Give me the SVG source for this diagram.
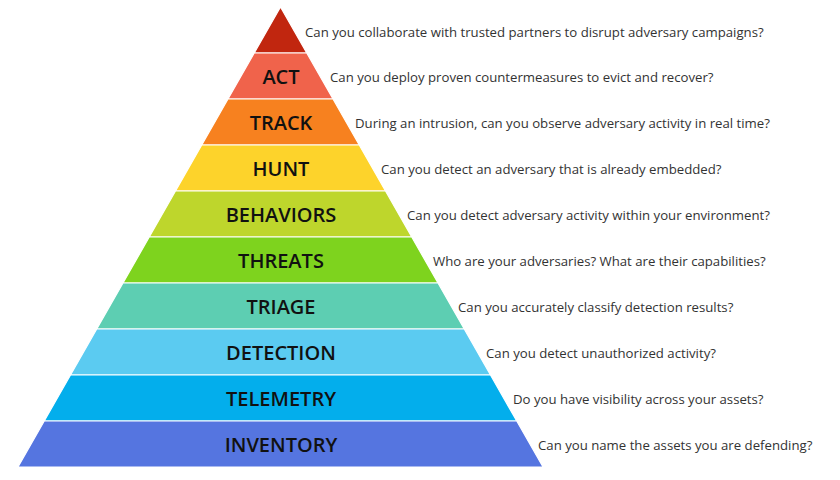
<svg xmlns="http://www.w3.org/2000/svg" width="840" height="480" viewBox="0 0 840 480">
<style>
.layer{stroke:#ffffff;stroke-width:1.2;stroke-linejoin:miter}
.lbl{font-family:"Open Sans","Noto Sans","Liberation Sans",sans-serif;font-weight:600;font-size:20px;fill:#111111;text-anchor:middle}
.q{font-family:"Open Sans","Noto Sans","Liberation Sans",sans-serif;font-size:13.2px;fill:#333333}
</style>
<rect width="840" height="480" fill="#ffffff"/>
<g id="apex">
<polygon class="layer" points="280.5,7 306.75,53 254.25,53" fill="#C1260F"/>
<text class="q" x="305" y="37">Can you collaborate with trusted partners to disrupt adversary campaigns?</text>
</g>
<g id="act">
<polygon class="layer" points="254.25,53 306.75,53 333,99 228,99" fill="#F0634B"/>
<text class="lbl" x="281" y="84">ACT</text>
<text class="q" x="330" y="82">Can you deploy proven countermeasures to evict and recover?</text>
</g>
<g id="track">
<polygon class="layer" points="228,99 333,99 359.25,145 201.75,145" fill="#F7811F"/>
<text class="lbl" x="281" y="130">TRACK</text>
<text class="q" x="355" y="128">During an intrusion, can you observe adversary activity in real time?</text>
</g>
<g id="hunt">
<polygon class="layer" points="201.75,145 359.25,145 385.5,191 175.5,191" fill="#FDD32B"/>
<text class="lbl" x="281" y="176">HUNT</text>
<text class="q" x="381" y="174">Can you detect an adversary that is already embedded?</text>
</g>
<g id="behaviors">
<polygon class="layer" points="175.5,191 385.5,191 411.75,237 149.25,237" fill="#BED62C"/>
<text class="lbl" x="281" y="222">BEHAVIORS</text>
<text class="q" x="407" y="220">Can you detect adversary activity within your environment?</text>
</g>
<g id="threats">
<polygon class="layer" points="149.25,237 411.75,237 438,283 123,283" fill="#7ED31E"/>
<text class="lbl" x="281" y="268">THREATS</text>
<text class="q" x="433" y="266">Who are your adversaries? What are their capabilities?</text>
</g>
<g id="triage">
<polygon class="layer" points="123,283 438,283 464.25,329 96.75,329" fill="#5DCEB2"/>
<text class="lbl" x="281" y="314">TRIAGE</text>
<text class="q" x="458" y="312">Can you accurately classify detection results?</text>
</g>
<g id="detection">
<polygon class="layer" points="96.75,329 464.25,329 490.5,375 70.5,375" fill="#5BCBF1"/>
<text class="lbl" x="281" y="360">DETECTION</text>
<text class="q" x="486" y="358">Can you detect unauthorized activity?</text>
</g>
<g id="telemetry">
<polygon class="layer" points="70.5,375 490.5,375 516.75,421 44.25,421" fill="#03AEEC"/>
<text class="lbl" x="281" y="406">TELEMETRY</text>
<text class="q" x="513" y="404">Do you have visibility across your assets?</text>
</g>
<g id="inventory">
<polygon class="layer" points="44.25,421 516.75,421 543,467 18,467" fill="#5575E0"/>
<text class="lbl" x="281" y="452">INVENTORY</text>
<text class="q" x="538" y="450">Can you name the assets you are defending?</text>
</g>
</svg>
